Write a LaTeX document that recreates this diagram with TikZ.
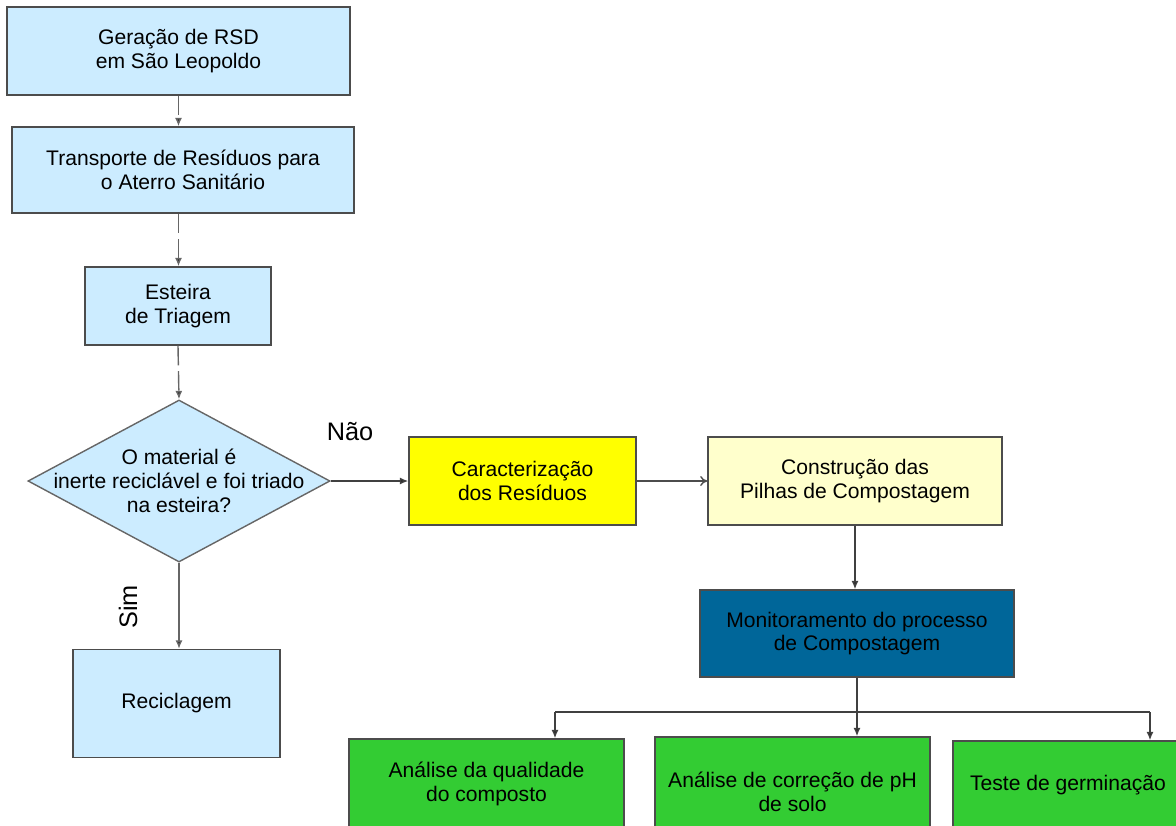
\documentclass[tikz,border=0pt]{standalone}
\usepackage{fontspec}
\setmainfont{Liberation Sans}
\usetikzlibrary{shapes.geometric,arrows.meta}
\definecolor{boxBlue}{RGB}{204,236,255}
\definecolor{boxYellow}{RGB}{255,255,0}
\definecolor{boxCream}{RGB}{255,255,204}
\definecolor{boxNavy}{RGB}{0,102,153}
\definecolor{boxGreen}{RGB}{51,204,51}
\newcommand{\boxFont}{\fontsize{15}{17}\selectfont}
\newcommand{\tagFont}{\fontsize{18}{20}\selectfont}

\begin{document}
\begin{tikzpicture}[x=0.025cm, y=-0.025cm]
  \tikzset{every node/.style={font=\boxFont},
    proc/.style={draw=black!70, line width=1pt, align=center, inner sep=2pt},
    flow/.style={-{Latex[length=6pt,width=5pt,fill=black!85]}, line width=1pt, draw=black!75},
    dash flow/.style={flow, draw=black!60, dash pattern=on 14pt off 4pt},
    open flow/.style={-{To[length=5pt,width=7pt]}, line width=1pt, draw=black!70}}
  \path[use as bounding box, clip] (0,0) rectangle (1176,825);
  \node[proc, fill=boxBlue, minimum width=8.575cm, minimum height=2.2cm] (RSD-1) at (178.5,51)
    {Geração de RSD\\em São Leopoldo};
  \node[proc, fill=boxBlue, minimum width=8.55cm, minimum height=2.15cm] (RSD-2) at (183,170)
    {Transporte de Resíduos para\\o Aterro Sanitário};
  \node[proc, fill=boxBlue, minimum width=4.65cm, minimum height=1.95cm] (RSD-3) at (178,306)
    {Esteira\\de Triagem};
  \node[diamond, draw=black!60, line width=1pt, fill=boxBlue, inner sep=0pt,
    minimum width=7.55cm, minimum height=4.05cm] (dec) at (179,481) {};
  \node[align=center] (dec-text) at (dec.center)
    {O material é\\inerte reciclável e foi triado\\na esteira?};
  \node[proc, fill=boxBlue, minimum width=5.175cm, minimum height=2.7cm] (rec) at (176.5,703.5)
    {Reciclagem};
  \node[proc, fill=boxYellow, minimum width=5.675cm, minimum height=2.2cm] (car) at (522.5,481)
    {Caracterização\\dos Resíduos};
  \node[proc, fill=boxCream, minimum width=7.35cm, minimum height=2.2cm] (con) at (855,481)
    {Construção das\\Pilhas de Compostagem};
  \node[proc, fill=boxNavy, minimum width=7.85cm, minimum height=2.175cm] (mon) at (857,633.5)
    {Monitoramento do processo\\de Compostagem};
  \node[proc, fill=boxGreen, minimum width=6.875cm, minimum height=2.25cm] (an-1) at (486.5,784)
    {Análise da qualidade\\do composto};
  \node[proc, fill=boxGreen, minimum width=6.875cm, minimum height=2.75cm] (an-2) at (792.5,792)
    {Análise de correção de pH\\de solo};
  \node[proc, fill=boxGreen, minimum width=5.75cm, minimum height=2.2cm] (an-3) at (1068,785)
    {Teste de germinação};
  \node[font=\tagFont] (nao) at (350,432) {Não};
  \node[font=\tagFont, rotate=90] (sim) at (128,607) {Sim};
  \coordinate (split) at (857,712);
  \coordinate (split-l) at (555,712);
  \coordinate (split-r) at (1150,712);
  \draw[dash flow] (RSD-1.south) -- (RSD-1.south |- RSD-2.north);
  \draw[dash flow] (RSD-1.south |- RSD-2.south) -- (RSD-1.south |- RSD-3.north);
  \draw[dash flow] (RSD-3.south) -- (dec.north);
  \draw[flow] (dec.east) -- (car.west);
  \draw[flow, draw=black!60] (dec.south) -- (dec.south |- rec.north);
  \draw[open flow] (car.east) -- (con.west);
  \draw[flow] (con.south) -- (con.south |- mon.north);
  \draw[line width=1pt, draw=black!75] (mon.south) -- (split);
  \draw[line width=1pt, draw=black!75] (split-l) -- (split-r);
  \draw[flow] (split-l) -- (split-l |- an-1.north);
  \draw[flow] (split) -- (split |- an-2.north);
  \draw[flow] (split-r) -- (split-r |- an-3.north);
\end{tikzpicture}
\end{document}
